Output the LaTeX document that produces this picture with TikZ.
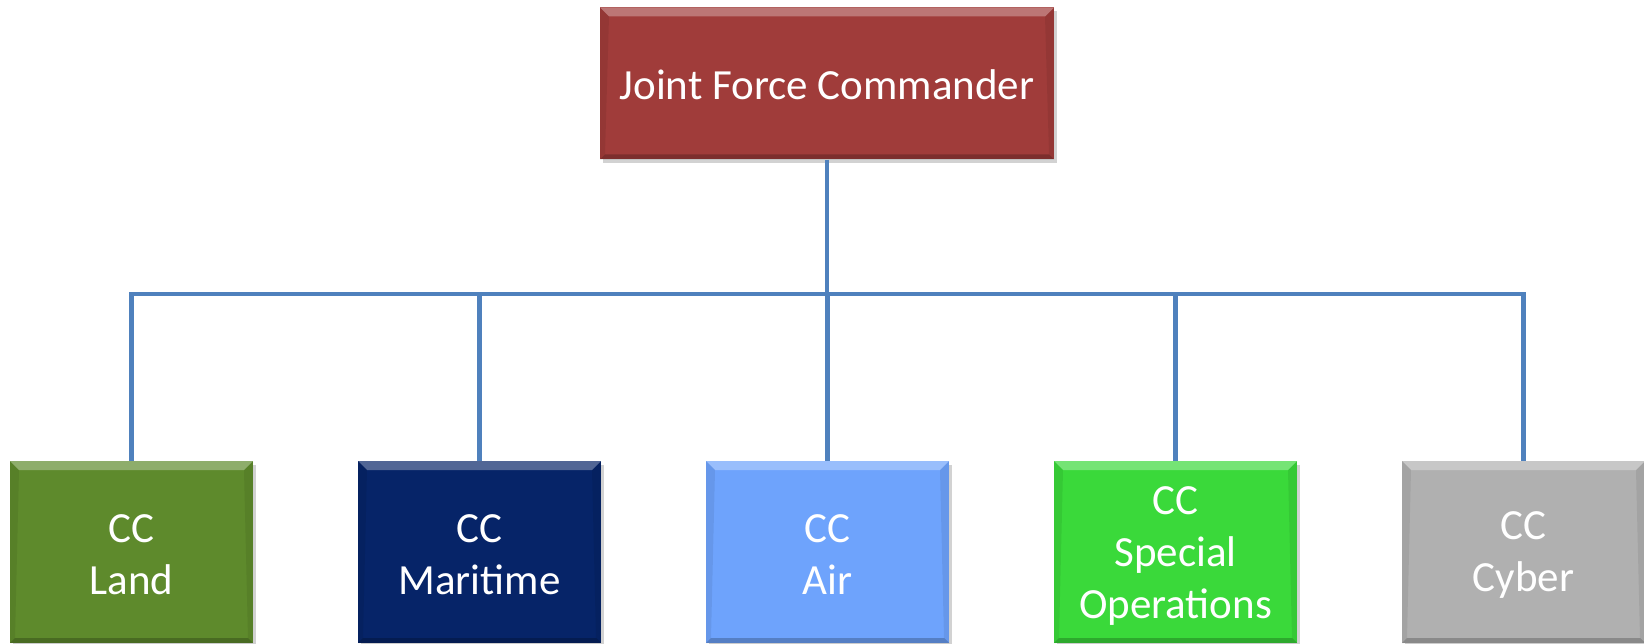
\documentclass[tikz,border=0pt]{standalone}
\usepackage{fontspec}
\setmainfont{Carlito}
\usetikzlibrary{shadows}
\definecolor{cTop}{RGB}{160,60,58}
\definecolor{cLand}{RGB}{94,138,44}
\definecolor{cMar}{RGB}{6,36,104}
\definecolor{cAir}{RGB}{110,163,252}
\definecolor{cSpec}{RGB}{58,217,58}
\definecolor{cCyb}{RGB}{176,176,176}
\definecolor{cLine}{RGB}{79,129,189}
\tikzset{
  bevelbox/.style={
    rectangle, fill=#1, text=white, align=center,
    font=\fontsize{43}{52}\selectfont, inner sep=0pt,
    drop shadow={opacity=0.35, shadow xshift=3pt, shadow yshift=-4pt},
    path picture={
      \fill[white,opacity=0.30]
        (path picture bounding box.north west) -- (path picture bounding box.north east)
        -- ([xshift=-9pt,yshift=-9pt]path picture bounding box.north east)
        -- ([xshift=9pt,yshift=-9pt]path picture bounding box.north west) -- cycle;
      \fill[black,opacity=0.07]
        (path picture bounding box.north west) -- ([xshift=9pt,yshift=-9pt]path picture bounding box.north west)
        -- ([xshift=5pt,yshift=5pt]path picture bounding box.south west)
        -- (path picture bounding box.south west) -- cycle;
      \fill[black,opacity=0.07]
        (path picture bounding box.north east) -- ([xshift=-9pt,yshift=-9pt]path picture bounding box.north east)
        -- ([xshift=-5pt,yshift=5pt]path picture bounding box.south east)
        -- (path picture bounding box.south east) -- cycle;
      \fill[black,opacity=0.22]
        (path picture bounding box.south west) -- (path picture bounding box.south east)
        -- ([xshift=-5pt,yshift=5pt]path picture bounding box.south east)
        -- ([xshift=5pt,yshift=5pt]path picture bounding box.south west) -- cycle;
    }
  },
  topbox/.style={bevelbox=cTop, minimum width=454pt, minimum height=152pt},
  subbox/.style={bevelbox=#1, minimum width=243pt, minimum height=182pt},
  lbl/.style={text=white, align=center, font=\fontsize{43}{52}\selectfont, inner sep=0pt},
  conn/.style={draw=cLine, line width=4.5pt}
}
\begin{document}
\begin{tikzpicture}[x=1pt,y=-1pt]
\useasboundingbox (0,0) rectangle (1644,644);
\fill[white] (0,0) rectangle (1644,644);
\coordinate (bary) at (0,294);
\node[topbox] (top) at (827,83.5) {};
\node[lbl] (toplbl) at (827,85) {Joint Force Commander};
\path (131.5,552) coordinate (pland) (479.5,552) coordinate (pmar) (827.5,552) coordinate (pair)
      (1175.5,552) coordinate (pspec) (1523.5,552) coordinate (pcyb);
\coordinate (hub) at (top.south |- bary);
\draw[conn] (top.south) -- (hub);
\draw[conn] (pland) -- (pland |- bary) -- (pcyb |- bary) -- (pcyb);
\draw[conn] (pmar) -- (pmar |- bary);
\draw[conn] (pair) -- (pair |- bary);
\draw[conn] (pspec) -- (pspec |- bary);
\node[subbox=cLand] (land) at (pland) {};
\node[subbox=cMar] (mar) at (pmar) {};
\node[subbox=cAir] (air) at (pair) {};
\node[subbox=cSpec] (spec) at (pspec) {};
\node[subbox=cCyb] (cyb) at (pcyb) {};
\node[lbl] (landlbl) at ([yshift=-3pt]land.center) {CC\\Land};
\node[lbl] (marlbl) at ([yshift=-3pt]mar.center) {CC\\Maritime};
\node[lbl] (airlbl) at ([yshift=-3pt]air.center) {CC\\Air};
\node[lbl] (speclbl) at ([yshift=-4pt]spec.center) {CC\\Special\\Operations};
\node[lbl] (cyblbl) at ([yshift=-3pt]cyb.center) {CC\\Cyber};
\end{tikzpicture}
\end{document}
